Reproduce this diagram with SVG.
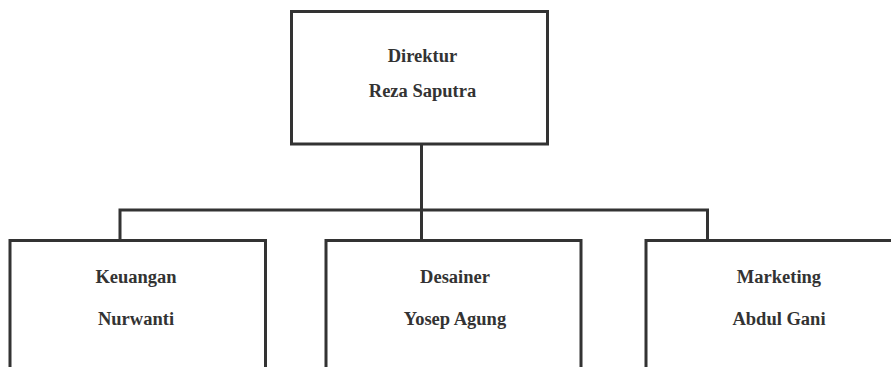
<svg xmlns="http://www.w3.org/2000/svg" width="891" height="367" viewBox="0 0 891 367">
<style>
.box{fill:#fff;stroke:#333;stroke-width:3}
.conn{fill:none;stroke:#333;stroke-width:3}
.t{font-weight:bold;font-size:18.5px;fill:#333;text-anchor:middle}
</style>
<rect width="891" height="367" fill="#fff"/>
<g id="connectors">
<path class="conn" d="M421.5 144 V210 M120 240 V210 H707.5 V240 M421.5 210 V240"/>
</g>
<g font-family="Liberation Serif, DejaVu Serif, serif">
<g id="direktur">
<rect class="box" x="291.5" y="11.5" width="256" height="132.5"/>
<text class="t" x="422.5" y="62">Direktur</text>
<text class="t" x="422.5" y="97">Reza Saputra</text>
</g>
<g id="keuangan">
<rect class="box" x="10" y="240.5" width="255.5" height="140"/>
<text class="t" x="136" y="283">Keuangan</text>
<text class="t" x="136" y="325">Nurwanti</text>
</g>
<g id="desainer">
<rect class="box" x="326" y="240.5" width="255" height="140"/>
<text class="t" x="455" y="283">Desainer</text>
<text class="t" x="455" y="325">Yosep Agung</text>
</g>
<g id="marketing">
<rect class="box" x="646" y="240.5" width="270" height="140"/>
<text class="t" x="779" y="283">Marketing</text>
<text class="t" x="779" y="325">Abdul Gani</text>
</g>
</g>
</svg>
